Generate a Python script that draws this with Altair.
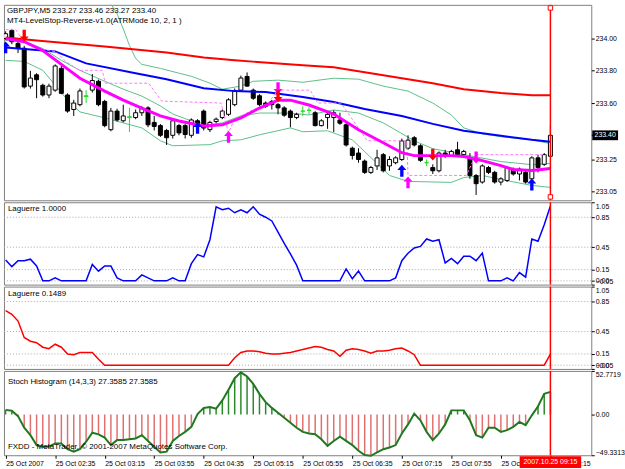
import altair as alt
import pandas as pd

FONT = "Liberation Sans"

# ---------------- data ----------------
tick_bars = [0, 8, 16, 24, 32, 40, 48, 56, 64, 72, 80, 88]
tick_labels = ["25 Oct 2007", "25 Oct 02:35", "25 Oct 03:15", "25 Oct 03:55", "25 Oct 04:35",
               "25 Oct 05:15", "25 Oct 05:55", "25 Oct 06:35", "25 Oct 07:15", "25 Oct 07:55",
               "25 Oct 08:35", "25 Oct 09:15"]

opens = [234.00, 234.05, 233.97, 233.94, 233.705, 233.775, 233.71, 233.65, 233.68, 233.815,
         233.65, 233.56, 233.59, 233.64, 233.68, 233.735, 233.61, 233.435, 233.55, 233.49,
         233.51, 233.51, 233.54, 233.57, 233.48, 233.46, 233.43, 233.40, 233.46, 233.46,
         233.40, 233.49, 233.55, 233.435, 233.485, 233.51, 233.53, 233.59, 233.68, 233.765,
         233.68, 233.645, 233.60, 233.61, 233.59, 233.57, 233.55, 233.51, 233.55, 233.555,
         233.54, 233.46, 233.51, 233.51, 233.495, 233.465, 233.32, 233.29, 233.24, 233.17,
         233.21, 233.28, 233.21, 233.23, 233.25, 233.32, 233.385, 233.335, 233.23, 233.20,
         233.18, 233.29, 233.275, 233.31, 233.28, 233.26, 233.15, 233.11, 233.20, 233.17,
         233.11, 233.12, 233.19, 233.16, 233.17, 233.13, 233.26, 233.22, 233.27]
highs = [234.045, 234.06, 233.985, 233.955, 233.80, 233.785, 233.72, 233.72, 233.84, 233.83,
         233.66, 233.62, 233.69, 233.68, 233.78, 233.745, 233.62, 233.57, 233.565, 233.59,
         233.57, 233.56, 233.58, 233.58, 233.52, 233.47, 233.44, 233.50, 233.47, 233.47,
         233.505, 233.50, 233.56, 233.49, 233.51, 233.56, 233.63, 233.69, 233.77, 233.79,
         233.69, 233.655, 233.61, 233.62, 233.60, 233.58, 233.56, 233.54, 233.58, 233.575,
         233.55, 233.50, 233.55, 233.555, 233.54, 233.475, 233.33, 233.32, 233.25, 233.21,
         233.31, 233.29, 233.27, 233.27, 233.38, 233.40, 233.395, 233.345, 233.25, 233.22,
         233.30, 233.31, 233.31, 233.36, 233.31, 233.29, 233.16, 233.22, 233.21, 233.18,
         233.14, 233.21, 233.20, 233.20, 233.18, 233.27, 233.28, 233.29, 233.46]
lows = [233.99, 233.965, 233.91, 233.69, 233.69, 233.63, 233.64, 233.63, 233.67, 233.655,
        233.54, 233.52, 233.58, 233.60, 233.665, 233.58, 233.45, 233.425, 233.485, 233.48,
        233.42, 233.50, 233.52, 233.45, 233.43, 233.39, 233.34, 233.38, 233.40, 233.38,
        233.385, 233.46, 233.43, 233.42, 233.475, 233.50, 233.52, 233.58, 233.67, 233.70,
        233.62, 233.58, 233.57, 233.56, 233.53, 233.515, 233.45, 233.50, 233.52, 233.53,
        233.455, 233.455, 233.44, 233.42, 233.465, 233.33, 233.25, 233.23, 233.16, 233.16,
        233.185, 233.17, 233.18, 233.22, 233.24, 233.31, 233.33, 233.235, 233.21, 233.16,
        233.17, 233.26, 233.27, 233.275, 233.275, 233.13, 233.03, 233.10, 233.16, 233.10,
        233.09, 233.11, 233.15, 233.12, 233.10, 233.12, 233.17, 233.21, 233.27]
closes = [234.03, 233.98, 233.94, 233.70, 233.755, 233.745, 233.65, 233.705, 233.83, 233.66,
          233.55, 233.60, 233.675, 233.645, 233.74, 233.59, 233.46, 233.55, 233.495, 233.52,
          233.515, 233.54, 233.565, 233.465, 233.455, 233.40, 233.385, 233.49, 233.415, 233.405,
          233.495, 233.47, 233.445, 233.48, 233.50, 233.55, 233.62, 233.675, 233.755, 233.705,
          233.63, 233.59, 233.58, 233.59, 233.57, 233.525, 233.51, 233.53, 233.55, 233.555,
          233.46, 233.49, 233.53, 233.54, 233.475, 233.34, 233.275, 233.25, 233.17, 233.20,
          233.26, 233.18, 233.25, 233.26, 233.365, 233.37, 233.34, 233.245, 233.23, 233.18,
          233.29, 233.27, 233.30, 233.28, 233.30, 233.15, 233.10, 233.21, 233.17, 233.11,
          233.13, 233.20, 233.16, 233.19, 233.11, 233.26, 233.20, 233.28, 233.40]
doji_bars = [13, 20, 48, 49, 68]

red_ma_bars = [0, 5, 16, 26, 32, 37, 48, 53, 58, 64, 69, 74, 80, 85, 88]
red_ma_vals = [234.006, 233.988, 233.951, 233.914, 233.883, 233.865, 233.834, 233.822, 233.791,
               233.754, 233.723, 233.686, 233.662, 233.649, 233.649]

blue_ma_bars = [0, 8, 13, 21, 26, 32, 37, 42, 48, 53, 58, 64, 69, 74, 80, 85, 88]
blue_ma_vals = [233.945, 233.92, 233.846, 233.785, 233.748, 233.692, 233.674, 233.668, 233.637,
                233.606, 233.563, 233.52, 233.471, 233.428, 233.397, 233.372, 233.36]

mag_bars = [0, 3, 6, 9, 12, 16, 19, 22, 25, 28, 32, 35, 38, 41, 44, 46, 49, 53, 57, 61, 64, 66,
            69, 72, 74, 77, 80, 82, 85, 88]
mag_vals = [234.00, 233.98, 233.926, 233.84, 233.754, 233.674, 233.618, 233.569, 233.52, 233.489,
            233.458, 233.465, 233.508, 233.569, 233.618, 233.618, 233.588, 233.532, 233.434,
            233.354, 233.292, 233.274, 233.274, 233.274, 233.268, 233.243, 233.212, 233.188,
            233.182, 233.194]

band_up_bars = [0, 13, 17, 18, 19, 20, 21, 22, 25, 28, 30, 33, 35, 38, 40, 44, 48, 53, 57, 61,
                65, 69, 72, 74, 77, 80, 85, 88]
band_up_vals = [234.40, 234.32, 234.215, 234.154, 234.06, 233.957, 233.877, 233.84, 233.815,
                233.785, 233.766, 233.723, 233.686, 233.705, 233.735, 233.742, 233.729, 233.754,
                233.748, 233.705, 233.674, 233.60, 233.526, 233.446, 233.409, 233.391, 233.372,
                233.348]

band_mid_bars = [0, 3, 6, 9, 12, 16, 19, 22, 25, 27, 30, 33, 35, 38, 41, 46, 49, 53, 57, 61, 66,
                 69, 74, 80, 85, 88]
band_mid_vals = [233.988, 233.982, 233.938, 233.865, 233.803, 233.735, 233.686, 233.643, 233.582,
                 233.532, 233.489, 233.465, 233.477, 233.52, 233.538, 233.538, 233.526, 233.557,
                 233.538, 233.477, 233.366, 233.317, 233.28, 233.237, 233.218, 233.225]

band_low_bars = [0, 3, 6, 8, 10, 12, 16, 19, 22, 25, 27, 33, 35, 38, 41, 46, 48, 52, 56, 59, 62,
                 65, 72, 74, 77, 80, 85, 88]
band_low_vals = [233.865, 233.858, 233.803, 233.711, 233.618, 233.545, 233.508, 233.477, 233.446,
                 233.366, 233.335, 233.342, 233.366, 233.372, 233.403, 233.446, 233.422, 233.428,
                 233.372, 233.262, 233.151, 233.114, 233.108, 233.138, 233.151, 233.126, 233.089,
                 233.077]

stop_bars = [0, 1.65, 2.9, 6.5, 8.1, 9.7, 11.9, 15.6, 16.1, 23.1, 25.2, 34.8, 36, 36.9, 39.6,
             42.4, 44, 49.2, 50.4, 54.1, 54.5, 58.4, 64.8, 65, 74.4, 76, 87.2]
stop_vals = [234.055, 234.055, 233.982, 233.926, 233.92, 233.858, 233.803, 233.803, 233.723,
             233.723, 233.612, 233.60, 233.415, 233.495, 233.551, 233.60, 233.68, 233.68, 233.60,
             233.60, 233.582, 233.366, 233.366, 233.151, 233.151, 233.28, 233.28]

arrow_bars = [0, 3, 31, 36, 44, 44, 64, 65, 69, 76, 85]
arrow_prices = [233.945, 234.018, 233.446, 233.39, 233.692, 233.643, 233.18, 233.108, 233.28,
                233.262, 233.095]
arrow_dirs = ["up", "down", "up", "up", "down", "down", "up", "up", "down", "down", "up"]
arrow_colors = ["#0000ff", "#ff0000", "#0000ff", "#ff00ff", "#ff00ff", "#ff0000", "#0000ff",
                "#ff00ff", "#ff0000", "#ff00ff", "#0000ff"]

lag1 = [0.28, 0.19, 0.27, 0.27, 0.29, 0.20, 0, 0, 0.04, 0,
        0, 0, 0, 0, 0.22, 0.13, 0.20, 0.20, 0.04, 0,
        0, 0, 0.08, 0.04, 0, 0, 0, 0.04, 0, 0,
        0.23, 0.35, 0.32, 0.55, 0.99, 0.95, 0.97, 0.91, 0.95, 0.91,
        0.99, 0.89, 0.85, 0.80, 0.65, 0.50, 0.36, 0.21, 0, 0,
        0, 0, 0, 0, 0, 0.16, 0.03, 0.13, 0, 0,
        0, 0, 0, 0.04, 0.27, 0.37, 0.44, 0.46, 0.56, 0.53,
        0.55, 0.24, 0.30, 0.23, 0.33, 0.33, 0.27, 0.37, 0, 0,
        0, 0.04, 0, 0.11, 0.05, 0.56, 0.53, 0.75, 1.00]
lag2 = [0.73, 0.68, 0.59, 0.37, 0.32, 0.30, 0.24, 0.22, 0.28, 0.24,
        0.15, 0.14, 0.17, 0.17, 0.17, 0.08, 0, 0, 0, 0,
        0, 0, 0, 0, 0, 0, 0, 0, 0, 0,
        0, 0, 0, 0, 0, 0, 0, 0.10, 0.17, 0.19,
        0.19, 0.18, 0.16, 0.15, 0.15, 0.16, 0.17, 0.19, 0.21, 0.23,
        0.25, 0.24, 0.21, 0.19, 0.12, 0.20, 0.22, 0.21, 0.19, 0.16,
        0.19, 0.19, 0.20, 0.22, 0.23, 0.19, 0.14, 0, 0, 0,
        0, 0, 0, 0, 0, 0, 0, 0, 0, 0,
        0, 0, 0, 0, 0, 0, 0, 0, 0.1489]
stoch = [5.6, 4.6, -2, -16, -25, -37, -39, -39, -35, -35,
         -42, -45, -42, -33, -22, -24, -28, -37, -31, -31,
         -30, -29, -25, -32, -39, -46, -45, -32, -26, -21,
         -15, 0.5, 8, 9, 7, 17, 30, 44, 51, 46,
         37, 25, 15, 8, 2, -4, -10, -16, -21, -23,
         -24, -30, -38, -32, -27, -32, -37, -44, -49, -50,
         -46, -42, -40, -37, -23, -12, 1, -7, -21, -31,
         -23, -12, 5, 5, 5, -7, -25, -28, -16, -16,
         -21, -19, -15, -9, -13, -1, 10, 25, 27.3585]
lag_levels = [0.85, 0.45, 0.15, 0.0]

main_ticks = [233.05, 233.25, 233.40, 233.60, 233.80, 234.00]
last_bar = 88
last_price = 233.40

# ---------------- layout helpers ----------------
W = 592
H_MAIN, H_LAG, H_STO = 197, 83, 85
AX_FS = 7
PAD = {"left": 1, "top": 1, "right": 0, "bottom": 0}
x_scale = alt.Scale(domain=[-0.27, 94.6], nice=False, zero=False, padding=0)
X = alt.X("bar:Q", scale=x_scale, axis=None)

main_scale = alt.Scale(domain=[232.997, 234.209], nice=False, zero=False, padding=0)
main_axis = alt.Axis(orient="right", values=main_ticks, format=".2f", tickSize=3,
                     labelPadding=1, grid=False, domain=False, title=None)


def ym(field):
    return alt.Y(f"{field}:Q", scale=main_scale, axis=main_axis, title=None)


UP = "M0,-1L0.75,-0.15L0.28,-0.15L0.28,1L-0.28,1L-0.28,-0.15L-0.75,-0.15Z"
DOWN = "M0,1L0.75,0.15L0.28,0.15L0.28,-1L-0.28,-1L-0.28,0.15L-0.75,0.15Z"
PRICE_BOX = "M-1,-0.38L1,-0.38L1,0.38L-1,0.38Z"
DATE_BOX = "M-1,-0.19L1,-0.19L1,0.19L-1,0.19Z"


def line(bars, vals, color, width, dash=None):
    df = pd.DataFrame({"bar": bars, "v": vals, "k": list(range(len(bars)))})
    kw = dict(color=color, strokeWidth=width, clip=True)
    if dash:
        kw["strokeDash"] = dash
    return alt.Chart(df).mark_line(**kw).encode(x=X, y=ym("v"), order="k:Q")


def label(text, xpx, ypx, size=8, color="black", align="left"):
    return alt.Chart(pd.DataFrame({"t": [text]})).mark_text(
        align=align, baseline="middle", font=FONT, fontSize=size, color=color
    ).encode(x=alt.value(xpx), y=alt.value(ypx), text="t:N")


# ---------------- main price panel ----------------
n = len(opens)
body_fill, edge_col = [], []
for i in range(n):
    if i in doji_bars:
        body_fill.append("#22dd22"); edge_col.append("#22dd22")
    elif closes[i] >= opens[i]:
        body_fill.append("white"); edge_col.append("black")
    else:
        body_fill.append("black"); edge_col.append("black")
candles = pd.DataFrame({"bar": list(range(n)), "open": opens, "high": highs, "low": lows,
                        "close": closes, "fillc": body_fill, "edgec": edge_col})
wicks = alt.Chart(candles).mark_rule(strokeWidth=1, clip=True).encode(
    x=X, y=ym("low"), y2="high:Q", color=alt.Color("edgec:N", scale=None))
bodies = alt.Chart(candles).mark_bar(width=4, strokeWidth=1, clip=True).encode(
    x=X, y=ym("open"), y2="close:Q",
    fill=alt.Fill("fillc:N", scale=None), stroke=alt.Stroke("edgec:N", scale=None))

arrows = alt.Chart(pd.DataFrame({"bar": arrow_bars, "v": arrow_prices, "dir": arrow_dirs,
                                 "col": arrow_colors})).mark_point(
    filled=True, size=144, opacity=1, strokeWidth=0, clip=True).encode(
    x=X, y=ym("v"),
    shape=alt.Shape("dir:N", scale=alt.Scale(domain=["up", "down"], range=[UP, DOWN]), legend=None),
    color=alt.Color("col:N", scale=None))

now_df = pd.DataFrame({"bar": [last_bar]})
now_rule = alt.Chart(now_df).mark_rule(color="#ff0000", strokeWidth=1.5).encode(x=X)
now_marks = alt.Chart(pd.DataFrame({"bar": [last_bar, last_bar], "v": [234.19, 233.018]})).mark_point(
    shape="square", size=20, filled=True, fill="white", stroke="#ff0000", strokeWidth=1, opacity=1
).encode(x=X, y=ym("v"))

price_df = pd.DataFrame({"v": [last_price], "t": [f"{last_price:.2f}"]})
price_box = alt.Chart(price_df).mark_point(shape=PRICE_BOX, size=676, filled=True, color="black",
                                           opacity=1, strokeWidth=0).encode(
    x=alt.value(W + 14), y=ym("v"))
price_txt = alt.Chart(price_df).mark_text(font=FONT, fontSize=AX_FS, color="white", align="center",
                                          baseline="middle").encode(
    x=alt.value(W + 14), y=ym("v"), text="t:N")

main = alt.layer(
    line(band_up_bars, band_up_vals, "#5cbf8a", 1),
    line(band_mid_bars, band_mid_vals, "#5cbf8a", 1),
    line(band_low_bars, band_low_vals, "#5cbf8a", 1),
    wicks, bodies,
    line(red_ma_bars, red_ma_vals, "#ff0000", 2),
    line(blue_ma_bars, blue_ma_vals, "#0000ff", 2),
    line(stop_bars, stop_vals, "#ff77ff", 1, [3, 2]),
    line(mag_bars, mag_vals, "#ff00ff", 3),
    arrows, now_rule, now_marks, price_box, price_txt,
    label("GBPJPY,M5  233.27 233.46 233.27 233.40", 3, 6),
    label("MT4-LevelStop-Reverse-v1.0(ATRMode 10, 2, 1 )", 3, 16),
).properties(width=W, height=H_MAIN)


# ---------------- Laguerre panels ----------------
def lag_panel(values, color, title):
    sc = alt.Scale(domain=[-0.05, 1.05], nice=False, zero=False, padding=0)
    ax = alt.Axis(orient="right", values=[-0.05, 0, 0.15, 0.45, 0.85, 1.05], format=".2f",
                  tickSize=3, labelPadding=1, labelFlush=True, labelOverlap=False, grid=False,
                  domain=False, title=None)
    Y = alt.Y("v:Q", scale=sc, axis=ax, title=None)
    grid = alt.Chart(pd.DataFrame({"v": lag_levels})).mark_rule(
        color="#a8a8a8", strokeDash=[1, 2], strokeWidth=1).encode(y=Y)
    df = pd.DataFrame({"bar": list(range(len(values))), "v": values})
    ln = alt.Chart(df).mark_line(color=color, strokeWidth=1.5, clip=True).encode(x=X, y=Y)
    return alt.layer(grid, ln, now_rule, label(title, 4, 7)).properties(width=W, height=H_LAG)


p2 = lag_panel(lag1, "#0000ff", "Laguerre 1.0000")
p3 = lag_panel(lag2, "#ff0000", "Laguerre 0.1489")

# ---------------- Stoch histogram panel ----------------
label_expr = "[" + ",".join(f"'{t}'" for t in tick_labels) + "][round(datum.value/8)]"
X4 = alt.X("bar:Q", scale=x_scale, title=None,
           axis=alt.Axis(values=tick_bars, labelExpr=label_expr, labelAlign="left", tickSize=3,
                         labelPadding=1, labelFlush=False, labelOverlap=False, grid=False,
                         domain=False, title=None))
s_scale = alt.Scale(domain=[-49.3313, 52.7719], nice=False, zero=False, padding=0)
s_axis = alt.Axis(orient="right", values=[-49.3313, 0, 52.7719],
                  labelExpr="datum.value == 0 ? '0.00' : format(datum.value, '.4f')",
                  tickSize=3, labelPadding=1, labelFlush=True, labelOverlap=False, grid=False,
                  domain=False, title=None)
YS = alt.Y("v:Q", scale=s_scale, axis=s_axis, title=None)
sdf = pd.DataFrame({"bar": list(range(len(stoch))), "v": stoch, "zero": [0] * len(stoch),
                    "col": ["#2a8a2a" if s >= 0 else "#e07070" for s in stoch]})
hist = alt.Chart(sdf).mark_rule(strokeWidth=1.5).encode(
    x=X4, y=YS, y2="zero:Q", color=alt.Color("col:N", scale=None))
sline = alt.Chart(sdf).mark_line(color="#1f7a1f", strokeWidth=2).encode(x=X4, y=YS)
now4 = alt.Chart(now_df).mark_rule(color="#ff0000", strokeWidth=1.5).encode(x=X4)
date_df = pd.DataFrame({"bar": [last_bar], "t": ["2007.10.25 09:15"]})
date_box = alt.Chart(date_df).mark_point(shape=DATE_BOX, size=3844, filled=True, color="#ff0000",
                                         opacity=1, strokeWidth=0).encode(
    x=X4, y=alt.value(H_STO + 7))
date_txt = alt.Chart(date_df).mark_text(font=FONT, fontSize=AX_FS, color="white", align="center",
                                        baseline="middle").encode(
    x=X4, y=alt.value(H_STO + 7), text="t:N")

p4 = alt.layer(
    hist, sline, now4,
    label("Stoch Histogram (14,3,3) 27.3585 27.3585", 4, 11),
    label("FXDD - MetaTrader, \u00a9 2001-2007 MetaQuotes Software Corp.", 4, 77),
    date_box, date_txt,
).properties(width=W, height=H_STO)

chart = alt.vconcat(main, p2, p3, p4, spacing=2, bounds="flush", padding=PAD).properties(
    background="white"
).configure_view(stroke="#808080", strokeWidth=1).configure_axis(
    labelFont=FONT, labelFontSize=AX_FS, labelColor="black", tickColor="black"
)

chart.save("out.html", embed_options={"renderer": "svg", "actions": False, "padding": PAD})
